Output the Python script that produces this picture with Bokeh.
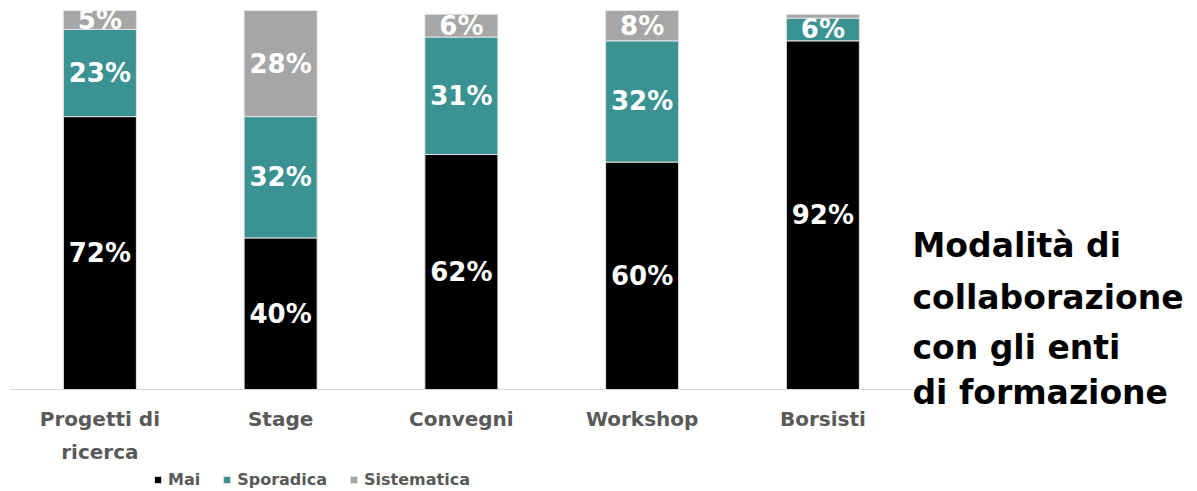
from bokeh.plotting import figure
from bokeh.models import ColumnDataSource, Legend, LegendItem, Label, Range1d
from bokeh.embed import file_html
from bokeh.resources import INLINE
from bokeh.core.properties import value

categories = ["Progetti di\nricerca", "Stage", "Convegni", "Workshop", "Borsisti"]
mai = [72, 40, 62, 60, 92]
sporadica = [23, 32, 31, 32, 6]
sistematica = [5, 28, 6, 8, 1]
series = ["Mai", "Sporadica", "Sistematica"]
colors = ["#000000", "#3a9292", "#a6a6a6"]
title_lines = ["Modalità di", "collaborazione", "con gli enti", "di formazione"]

FONT = "DejaVu Sans"

# layout (pixels)
W, H = 1197, 491
LEFT, TOP = 9, 10
CAT_PX = 180.75          # width of one category slot
PLOT_PX = 379            # height of 0..100 %
FRAME_W = W - LEFT
FRAME_H = H - TOP
BELOW_PX = FRAME_H - PLOT_PX

xs = [i + 0.5 for i in range(len(categories))]
src = ColumnDataSource(dict(x=xs, Mai=mai, Sporadica=sporadica, Sistematica=sistematica))

p = figure(x_range=Range1d(0, FRAME_W / CAT_PX), y_range=Range1d(-100 * BELOW_PX / PLOT_PX, 100),
           frame_width=FRAME_W, frame_height=FRAME_H, output_backend="svg", toolbar_location=None,
           min_border_left=LEFT, min_border_top=TOP, min_border_right=0, min_border_bottom=0)

renderers = p.vbar_stack(series, x="x", width=0.404, color=colors, source=src,
                         line_color="#e3e3e3", line_width=1)

# baseline axis line
p.segment(x0=[0], x1=[len(categories)], y0=[0], y1=[0], line_color="#d9d9d9", line_width=1)

# data labels
lx, ly, lt = [], [], []
for i, x in enumerate(xs):
    base = 0
    for vals in (mai, sporadica, sistematica):
        v = vals[i]
        if v >= 3:
            lx.append(x)
            ly.append(base + v / 2)
            lt.append(f"{v}%")
        base += v
p.text(x=lx, y=ly, text=lt, text_color="white", text_font=value(FONT), text_font_style="bold",
       text_font_size="26px", text_align="center", text_baseline="middle")

# category labels
p.text(x=xs, y=[0] * len(xs), text=categories, text_color="#595959", text_font=value(FONT),
       text_font_style="bold", text_font_size="20px", text_align="center", text_baseline="top",
       y_offset=17, text_line_height=1.4)

p.xaxis.visible = False
p.yaxis.visible = False
p.xgrid.visible = False
p.ygrid.visible = False
p.outline_line_color = None

legend = Legend(items=[LegendItem(label=s, renderers=[r]) for s, r in zip(series, renderers)],
                orientation="horizontal", location=(144, 2))
legend.glyph_width = 9
legend.glyph_height = 9
legend.label_standoff = 6
legend.spacing = 22
legend.padding = 0
legend.margin = 0
legend.border_line_color = None
legend.background_fill_alpha = 0
legend.label_text_font = FONT
legend.label_text_font_style = "bold"
legend.label_text_font_size = "16px"
legend.label_text_color = "#595959"
p.add_layout(legend, "center")

baselines = [246, 194, 144, 99]
for t, yb in zip(title_lines, baselines):
    p.add_layout(Label(x=903, y=yb, x_units="screen", y_units="screen", text=t,
                       text_font=FONT, text_font_style="bold", text_font_size="33px",
                       text_color="black", text_baseline="alphabetic"))

open("out.html", "w").write(file_html(p, INLINE))
